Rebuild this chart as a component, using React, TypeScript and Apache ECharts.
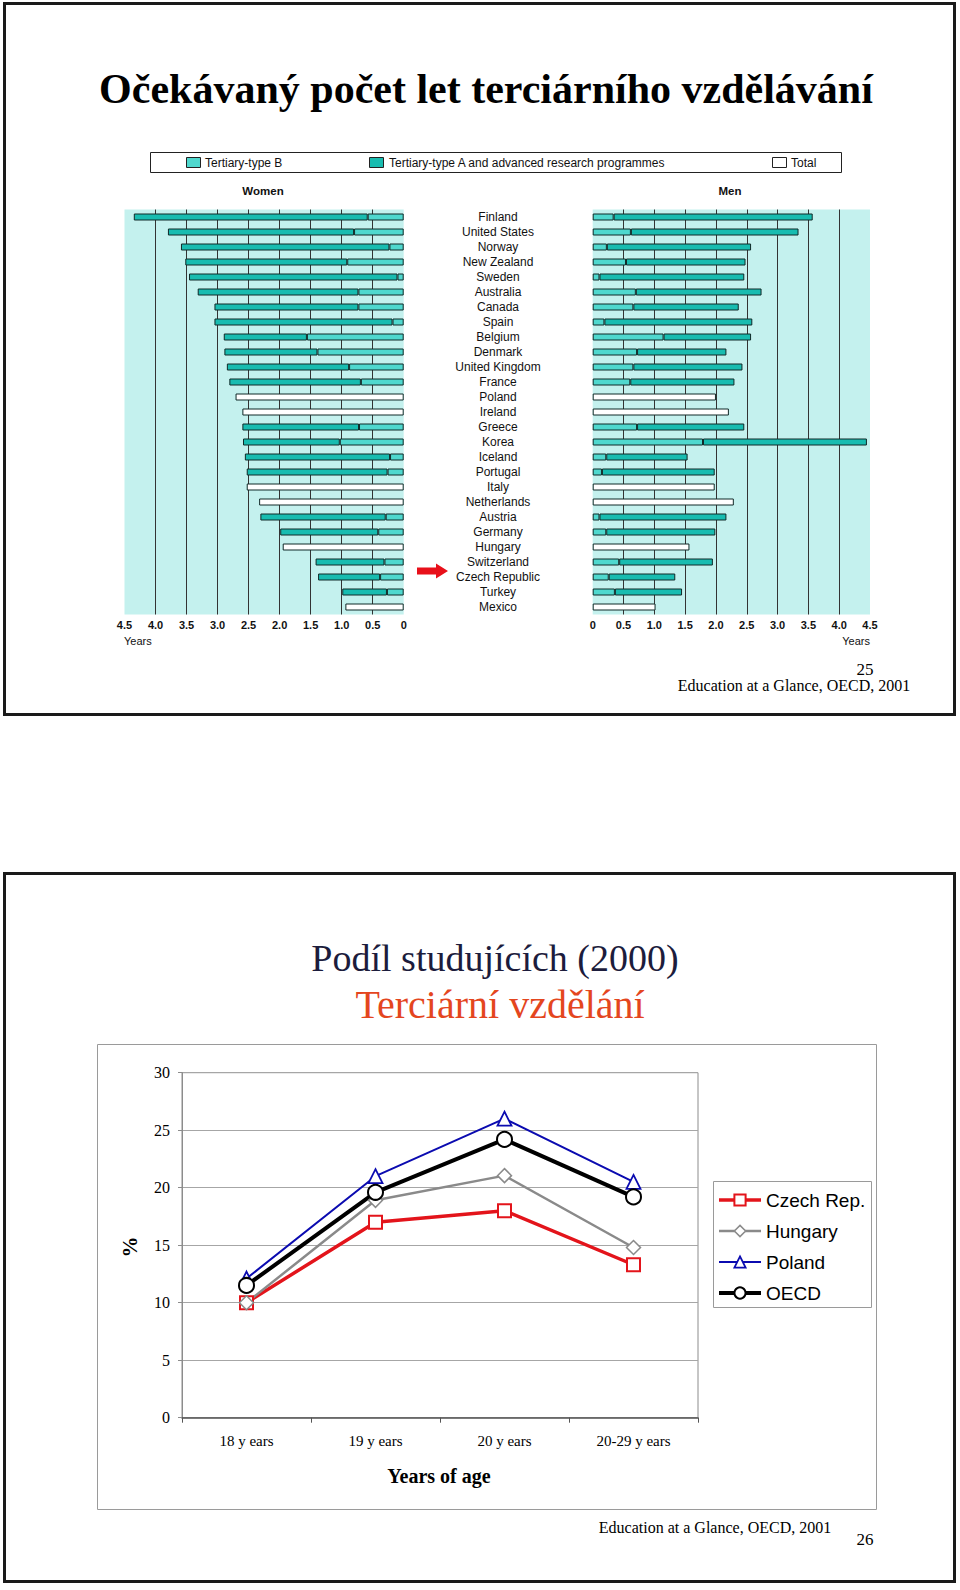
import React, { useEffect, useRef } from 'react';
import * as echarts from 'echarts';

const countries = ['Finland', 'United States', 'Norway', 'New Zealand', 'Sweden', 'Australia', 'Canada', 'Spain', 'Belgium', 'Denmark', 'United Kingdom', 'France', 'Poland', 'Ireland', 'Greece', 'Korea', 'Iceland', 'Portugal', 'Italy', 'Netherlands', 'Austria', 'Germany', 'Hungary', 'Switzerland', 'Czech Republic', 'Turkey', 'Mexico'];

const womenTypeB = [0.58, 0.80, 0.23, 0.91, 0.10, 0.73, 0.73, 0.18, 1.56, 1.39, 0.88, 0.69, null, null, 0.72, 1.03, 0.22, 0.26, null, null, 0.29, 0.41, null, 0.31, 0.38, 0.27, null];
const womenTypeA = [3.77, 3.00, 3.36, 2.61, 3.36, 2.59, 2.32, 2.87, 1.34, 1.50, 1.97, 2.12, null, null, 1.88, 1.56, 2.34, 2.27, null, null, 2.02, 1.58, null, 1.11, 1.00, 0.72, null];
const womenTotal = [null, null, null, null, null, null, null, null, null, null, null, null, 2.71, 2.60, null, null, null, null, 2.53, 2.33, null, null, 1.95, null, null, null, 0.94];

const menTypeB = [0.34, 0.62, 0.23, 0.54, 0.11, 0.70, 0.66, 0.19, 1.15, 0.72, 0.66, 0.61, null, null, 0.72, 1.79, 0.22, 0.15, null, null, 0.11, 0.22, null, 0.43, 0.26, 0.36, null];
const menTypeA = [3.23, 2.72, 2.34, 1.94, 2.35, 2.04, 1.71, 2.40, 1.42, 1.45, 1.77, 1.69, null, null, 1.74, 2.66, 1.32, 1.83, null, null, 2.06, 1.77, null, 1.52, 1.08, 1.09, null];
const menTotal = [null, null, null, null, null, null, null, null, null, null, null, null, 2.00, 2.21, null, null, null, null, 1.98, 2.29, null, null, 1.57, null, null, null, 1.02];

const ageCategories = ['18 y ears', '19 y ears', '20 y ears', '20-29 y ears'];
const czechRep = [10, 17, 18, 13.3];
const hungary = [10, 18.9, 21.05, 14.8];
const poland = [12.1, 21, 26, 20.5];
const oecd = [11.5, 19.6, 24.2, 19.2];

const CYAN = '#c4f1ee';
const COL_B = '#4fd8ce';
const COL_A = '#18bcb0';
const SANS = '"Liberation Sans", Arial, sans-serif';
const SERIF = '"Liberation Serif", "Times New Roman", serif';

const LINE_DEFS = [
  { name: 'Czech Rep.', data: czechRep, symbol: 'rect', size: 13, color: '#e3141b', width: 3.5, bw: 2 },
  { name: 'Hungary', data: hungary, symbol: 'diamond', size: 14, color: '#8a8a8a', width: 2.5, bw: 1.5 },
  { name: 'Poland', data: poland, symbol: 'triangle', size: 14, color: '#0b0bb0', width: 2, bw: 1.8 },
  { name: 'OECD', data: oecd, symbol: 'circle', size: 15, color: '#000000', width: 4, bw: 2 },
];

function txt(text: string, x: number, y: number, font: string, fill = '#000', align = 'center', extra: any = {}) {
  return {
    type: 'text',
    x,
    y,
    silent: true,
    ...extra,
    style: { text, font, fill, align, verticalAlign: 'middle', textAlign: align, textVerticalAlign: 'middle' },
  };
}

export default function App() {
  const ref = useRef<HTMLDivElement>(null);
  useEffect(() => {
    const chart = echarts.init(ref.current!, null, { renderer: 'svg' });
    const barBorder = { borderColor: '#102a28', borderWidth: 1 };
    const barX = (gridIndex: number, inverse: boolean) => ({
      gridIndex,
      type: 'value',
      min: 0,
      max: 4.5,
      interval: 0.5,
      inverse,
      axisLine: { show: false },
      axisTick: { show: false },
      splitLine: { show: true, showMinLine: false, showMaxLine: false, lineStyle: { color: '#333', width: 1 } },
      axisLabel: {
        formatter: (v: number) => (v === 0 ? '0' : v.toFixed(1)),
        fontWeight: 'bold',
        fontSize: 11,
        fontFamily: SANS,
        color: '#111',
        margin: 5,
      },
    });
    const barSeries = (xi: number, b: any[], a: any[], t: any[], stack: string) => [
      { type: 'bar', xAxisIndex: xi, yAxisIndex: xi, stack, data: b, barWidth: 7, itemStyle: { color: COL_B, ...barBorder } },
      { type: 'bar', xAxisIndex: xi, yAxisIndex: xi, stack, data: a, barWidth: 7, itemStyle: { color: COL_A, ...barBorder } },
      { type: 'bar', xAxisIndex: xi, yAxisIndex: xi, stack, data: t, barWidth: 7, itemStyle: { color: '#ffffff', ...barBorder } },
    ];
    const option: any = {
      animation: false,
      backgroundColor: '#ffffff',
      grid: [
        { left: 124.5, top: 209.5, width: 279.2, height: 405, show: true, backgroundColor: CYAN, borderWidth: 0 },
        { left: 592.7, top: 209.5, width: 277.3, height: 405, show: true, backgroundColor: CYAN, borderWidth: 0 },
        { left: 182, top: 1072.7, width: 516, height: 345, show: true, backgroundColor: 'transparent', borderColor: '#8c8c8c', borderWidth: 1 },
      ],
      xAxis: [
        barX(0, true),
        barX(1, false),
        {
          gridIndex: 2,
          type: 'category',
          data: ageCategories,
          boundaryGap: true,
          axisLine: { show: true, lineStyle: { color: '#555', width: 1.5 } },
          axisTick: { show: true, length: 5, lineStyle: { color: '#555' } },
          axisLabel: { fontFamily: SERIF, fontSize: 15, color: '#000', margin: 16 },
          splitLine: { show: false },
        },
      ],
      yAxis: [
        { gridIndex: 0, type: 'category', data: countries, inverse: true, axisLine: { show: false }, axisTick: { show: false }, axisLabel: { show: false }, splitLine: { show: false } },
        {
          gridIndex: 1,
          type: 'category',
          data: countries,
          inverse: true,
          axisLine: { show: false },
          axisTick: { show: false },
          splitLine: { show: false },
          axisLabel: { show: true, interval: 0, align: 'center', margin: 94.7, fontSize: 12, fontFamily: SANS, color: '#111' },
        },
        {
          gridIndex: 2,
          type: 'value',
          min: 0,
          max: 30,
          interval: 5,
          axisLine: { show: true, lineStyle: { color: '#8c8c8c' } },
          axisTick: { show: true, length: 4, lineStyle: { color: '#8c8c8c' } },
          axisLabel: { margin: 12, fontFamily: SERIF, fontSize: 16, color: '#000' },
          splitLine: { show: true, lineStyle: { color: '#a6a6a6', width: 1 } },
        },
      ],
      legend: {
        orient: 'vertical',
        left: 717,
        top: 1190.5,
        padding: 0,
        itemWidth: 42,
        itemHeight: 14,
        itemGap: 12,
        textStyle: { fontSize: 19, fontFamily: SANS, color: '#000' },
        data: LINE_DEFS.map((d) => ({
          name: d.name,
          lineStyle: { color: d.color, width: d.width },
          itemStyle: { color: '#ffffff', borderColor: d.color, borderWidth: d.bw },
        })),
      },
      series: [
        ...barSeries(0, womenTypeB, womenTypeA, womenTotal, 'women'),
        ...barSeries(1, menTypeB, menTypeA, menTotal, 'men'),
        ...LINE_DEFS.map((d) => ({
          type: 'line',
          name: d.name,
          xAxisIndex: 2,
          yAxisIndex: 2,
          data: d.data,
          symbol: d.symbol,
          symbolSize: d.size,
          lineStyle: { color: d.color, width: d.width },
          itemStyle: { color: '#ffffff', borderColor: d.color, borderWidth: d.bw },
        })),
      ],
      graphic: [
        { type: 'rect', silent: true, shape: { x: 4.5, y: 3.5, width: 950, height: 711 }, style: { fill: 'none', stroke: '#1a1a1a', lineWidth: 3 } },
        { type: 'rect', silent: true, shape: { x: 4.5, y: 873.5, width: 950, height: 708 }, style: { fill: 'none', stroke: '#1a1a1a', lineWidth: 3 } },
        txt('Očekávaný počet let terciárního vzdělávání', 486, 89, `bold 42px ${SERIF}`),
        { type: 'rect', silent: true, shape: { x: 150.5, y: 152.5, width: 691, height: 20 }, style: { fill: '#fff', stroke: '#222', lineWidth: 1 } },
        { type: 'rect', silent: true, shape: { x: 186.5, y: 157.5, width: 14, height: 10 }, style: { fill: COL_B, stroke: '#222', lineWidth: 1 } },
        txt('Tertiary-type B', 205, 163, `12px ${SANS}`, '#111', 'left'),
        { type: 'rect', silent: true, shape: { x: 369.5, y: 157.5, width: 14, height: 10 }, style: { fill: COL_A, stroke: '#222', lineWidth: 1 } },
        txt('Tertiary-type A and advanced research programmes', 389, 163, `12px ${SANS}`, '#111', 'left'),
        { type: 'rect', silent: true, shape: { x: 772.5, y: 157.5, width: 14, height: 10 }, style: { fill: '#fff', stroke: '#222', lineWidth: 1 } },
        txt('Total', 791, 163, `12px ${SANS}`, '#111', 'left'),
        txt('Women', 263, 191, `bold 11.5px ${SANS}`, '#111'),
        txt('Men', 730, 191, `bold 11.5px ${SANS}`, '#111'),
        txt('Years', 124, 641, `11px ${SANS}`, '#111', 'left'),
        txt('Years', 870, 641, `11px ${SANS}`, '#111', 'right'),
        {
          type: 'polygon', silent: true,
          shape: { points: [[417, 567.5], [436, 567.5], [436, 563.5], [448, 571], [436, 578.5], [436, 574.5], [417, 574.5]] },
          style: { fill: '#e8101a' },
        },
        txt('25', 865, 669, `17px ${SERIF}`),
        txt('Education at a Glance, OECD, 2001', 794, 685, `16px ${SERIF}`),
        txt('Podíl studujících (2000)', 495, 958, `38px ${SERIF}`, '#1c1c3c'),
        txt('Terciární vzdělání', 500, 1004, `40px ${SERIF}`, '#e4461e'),
        { type: 'rect', silent: true, shape: { x: 97.5, y: 1044.5, width: 779, height: 465 }, style: { fill: 'none', stroke: '#9a9a9a', lineWidth: 1 } },
        { type: 'rect', silent: true, z: -1, shape: { x: 713.5, y: 1181.5, width: 158, height: 126 }, style: { fill: '#fff', stroke: '#9a9a9a', lineWidth: 1 } },
        txt('%', 130, 1247, `bold 21px ${SERIF}`, '#000', 'center', { rotation: Math.PI / 2 }),
        txt('Years of age', 439, 1476, `bold 20px ${SERIF}`),
        txt('Education at a Glance, OECD, 2001', 715, 1527, `16px ${SERIF}`),
        txt('26', 865, 1539, `17px ${SERIF}`),
      ],
    };
    chart.setOption(option);
    return () => chart.dispose();
  }, []);
  return <div ref={ref} style={{ position: 'absolute', left: 0, top: 0, width: 960, height: 1590, background: '#fff' }} />;
}
